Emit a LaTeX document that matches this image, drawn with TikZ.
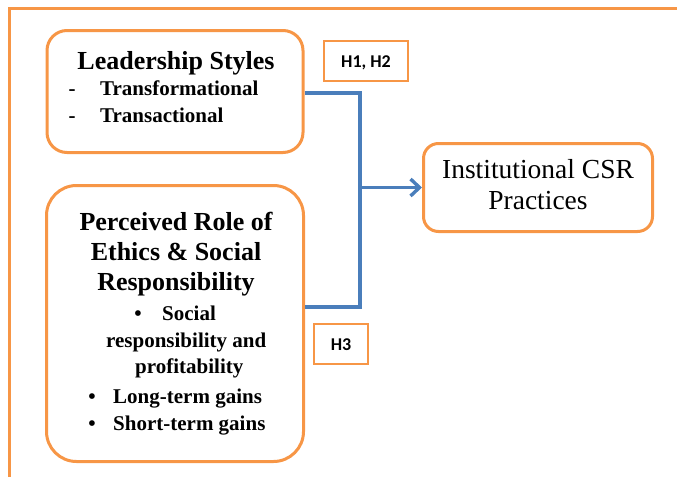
\documentclass[tikz,border=0pt]{standalone}
\usepackage{fontspec}
\setmainfont{Liberation Serif}
\newfontfamily\hfont{Carlito}
\usetikzlibrary{arrows.meta}
\definecolor{frameorange}{RGB}{247,150,70}
\definecolor{linkblue}{RGB}{74,126,187}
\tikzset{
  box/.style={draw=frameorange, line width=3pt, fill=white},
  tag/.style={draw=frameorange, line width=2.8pt, fill=white},
  conn/.style={draw=linkblue, line width=3.4pt},
  title/.style={font=\fontsize{26}{30}\selectfont\bfseries, anchor=base, inner sep=0pt},
  item/.style={font=\fontsize{21}{25}\selectfont\bfseries, anchor=base west, inner sep=0pt},
  bulletmark/.style={font=\fontsize{21}{25}\selectfont\bfseries, anchor=base, inner sep=0pt},
  outcome/.style={font=\fontsize{27.5}{32}\selectfont, anchor=base, inner sep=0pt},
  htext/.style={font=\hfont\fontsize{18}{20}\selectfont\bfseries, anchor=base, inner sep=0pt},
}
\begin{document}
\begin{tikzpicture}[x=1pt,y=-1pt]
\useasboundingbox (0,0) rectangle (677,477);
% outer frame (top and left edges only)
\draw[frameorange, line width=3pt] (9,477) -- (9,8) -- (677,8);

% boxes
\node[box, rounded corners=20pt, minimum width=256pt, minimum height=122pt] (lead) at (175,91.5) {};
\node[box, rounded corners=30pt, minimum width=257pt, minimum height=276pt] (perc) at (175,323.5) {};
\node[box, rounded corners=15pt, minimum width=229pt, minimum height=88pt] (inst) at (538,187.5) {};
\node[tag, minimum width=84pt, minimum height=40pt] (h12) at (366,61) {};
\node[tag, minimum width=54pt, minimum height=40pt] (h3) at (341,344) {};

% leadership styles
\node[title] (leadT) at (176,69) {Leadership Styles};
\node[bulletmark] (d1) at (72,95) {-};
\node[item] (l1) at (100,95) {Transformational};
\node[bulletmark] (d2) at (72,122) {-};
\node[item] (l2) at (100,122) {Transactional};

% perceived role of ethics
\node[title] (pT1) at (176,230) {Perceived Role of};
\node[title] (pT2) at (176,260) {Ethics \& Social};
\node[title] (pT3) at (176,290) {Responsibility};
\node[bulletmark] (b1) at (138,320) {\textbullet};
\node[item] (p1) at (162,320) {Social};
\node[item] (p1b) at (106,347) {responsibility and};
\node[item] (p1c) at (135,373) {profitability};
\node[bulletmark] (b2) at (92,403) {\textbullet};
\node[item] (p2) at (113,403) {Long-term gains};
\node[bulletmark] (b3) at (92,430) {\textbullet};
\node[item] (p3) at (113,430) {Short-term gains};

% outcome
\node[outcome] (o1) at (538,178) {Institutional CSR};
\node[outcome] (o2) at (538,209) {Practices};

% hypothesis labels
\node[htext] (h12t) at (h12.center) [yshift=-6pt] {H1, H2};
\node[htext] (h3t) at (h3.center) [yshift=-6pt] {H3};

% connectors
\coordinate (j1) at (360,93);
\coordinate (j2) at (360,307);
\draw[conn, line join=miter] (lead.east |- j1) -- (j1) -- (j2) -- (perc.east |- j2);
\draw[conn, -{Straight Barb[length=9pt,width=17pt]}] (j1 |- inst.west) -- (inst.west);
\end{tikzpicture}
\end{document}
